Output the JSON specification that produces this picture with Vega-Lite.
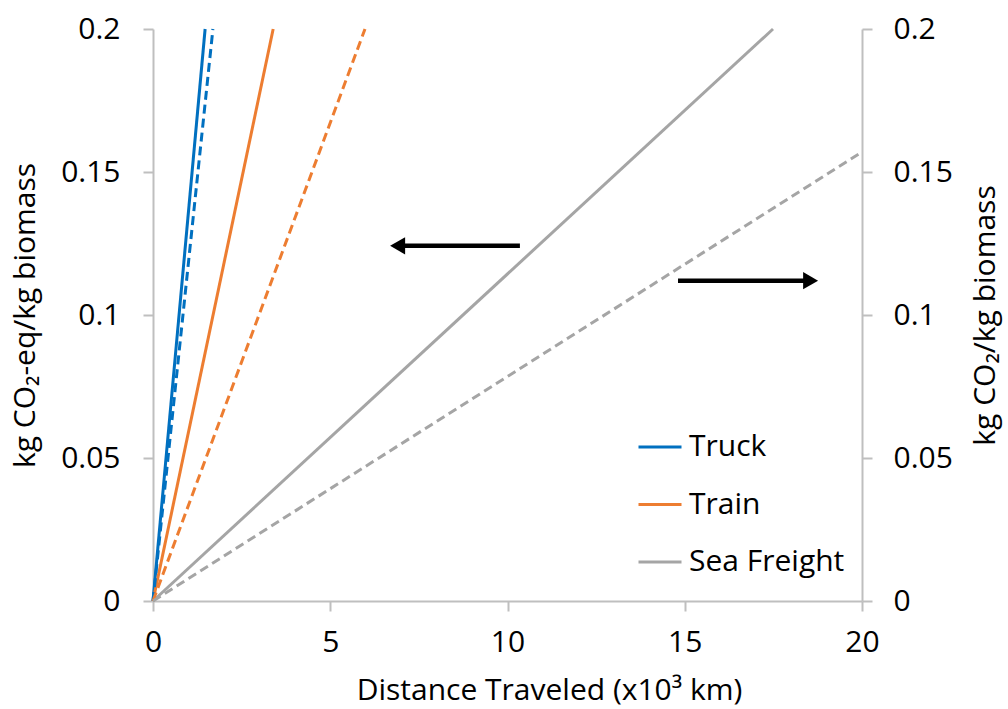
{
  "$schema": "https://vega.github.io/schema/vega-lite/v6.json",
  "width": 709,
  "height": 572,
  "autosize": {"type": "none"},
  "padding": {"left": 153, "top": 29, "right": 146, "bottom": 108},
  "background": "white",
  "config": {
    "font": "Open Sans",
    "view": {"stroke": null},
    "axis": {
      "grid": false,
      "domainColor": "#BFBFBF",
      "domainWidth": 2,
      "tickColor": "#BFBFBF",
      "tickWidth": 2,
      "tickSize": 10,
      "labelFlush": false,
      "labelFontSize": 30,
      "labelColor": "#000000",
      "labelFont": "Open Sans",
      "titleFont": "Open Sans",
      "titleFontSize": 30,
      "titleFontWeight": "normal",
      "titleColor": "#000000"
    }
  },
  "datasets": {
    "lines": [
      {"mode": "Truck", "kind": "solid", "x": 0, "y": 0},
      {"mode": "Truck", "kind": "solid", "x": 1.47, "y": 0.2},
      {"mode": "Truck", "kind": "dashed", "x": 0, "y": 0},
      {"mode": "Truck", "kind": "dashed", "x": 1.69, "y": 0.2},
      {"mode": "Train", "kind": "solid", "x": 0, "y": 0},
      {"mode": "Train", "kind": "solid", "x": 3.39, "y": 0.2},
      {"mode": "Train", "kind": "dashed", "x": 0, "y": 0},
      {"mode": "Train", "kind": "dashed", "x": 5.98, "y": 0.2},
      {"mode": "Sea Freight", "kind": "solid", "x": 0, "y": 0},
      {"mode": "Sea Freight", "kind": "solid", "x": 17.49, "y": 0.2},
      {"mode": "Sea Freight", "kind": "dashed", "x": 0, "y": 0},
      {"mode": "Sea Freight", "kind": "dashed", "x": 20, "y": 0.157}
    ],
    "arrows": [
      {"dir": "left", "x": 10.35, "x2": 6.9, "xh": 6.9, "y": 0.1242},
      {"dir": "right", "x": 14.81, "x2": 18.55, "xh": 18.55, "y": 0.112}
    ]
  },
  "layer": [
    {
      "data": {"name": "lines"},
      "transform": [{"filter": "datum.kind === 'solid'"}],
      "mark": {"type": "line", "strokeWidth": 3},
      "encoding": {
        "x": {
          "field": "x", "type": "quantitative",
          "scale": {"domain": [0, 20], "nice": false, "zero": true},
          "axis": {
            "values": [0, 5, 10, 15, 20],
            "labelPadding": 16,
            "title": "Distance Traveled (x10³ km)",
            "titleX": 396, "titleY": 98, "titleAlign": "center", "titleBaseline": "alphabetic"
          }
        },
        "y": {
          "field": "y", "type": "quantitative",
          "scale": {"domain": [0, 0.2], "nice": false},
          "axis": {
            "orient": "left",
            "values": [0, 0.05, 0.1, 0.15, 0.2],
            "format": "~g",
            "labelPadding": 23,
            "title": "kg CO₂-eq/kg biomass",
            "titleAngle": -90,
            "titleX": -128, "titleY": 286, "titleAlign": "center", "titleBaseline": "middle"
          }
        },
        "color": {
          "field": "mode", "type": "nominal",
          "scale": {"domain": ["Truck", "Train", "Sea Freight"], "range": ["#0070C0", "#ED7D31", "#A5A5A5"]},
          "legend": {
            "orient": "none", "legendX": 484, "legendY": 395,
            "title": null,
            "symbolType": "stroke", "symbolSize": 1849, "symbolStrokeWidth": 3,
            "labelFontSize": 30, "labelFont": "Open Sans", "labelColor": "#000000",
            "labelOffset": 6, "rowPadding": 19.5, "padding": 0
          }
        },
        "detail": {"field": "kind"}
      }
    },
    {
      "data": {"name": "lines"},
      "transform": [{"filter": "datum.kind === 'dashed'"}],
      "mark": {"type": "line", "strokeWidth": 3, "strokeDash": [9, 5]},
      "encoding": {
        "x": {"field": "x", "type": "quantitative"},
        "y": {
          "field": "y", "type": "quantitative",
          "scale": {"domain": [0, 0.2], "nice": false},
          "axis": {
            "orient": "right",
            "values": [0, 0.05, 0.1, 0.15, 0.2],
            "format": "~g",
            "labelPadding": 21,
            "title": "kg CO₂/kg biomass",
            "titleAngle": -90,
            "titleX": 123, "titleY": 286, "titleAlign": "center", "titleBaseline": "middle"
          }
        },
        "color": {"field": "mode", "type": "nominal"}
      }
    },
    {
      "data": {"name": "arrows"},
      "mark": {"type": "rule", "strokeWidth": 4.5, "color": "#000000"},
      "encoding": {
        "x": {"field": "x", "type": "quantitative"},
        "x2": {"field": "x2"},
        "y": {"field": "y", "type": "quantitative", "scale": {"domain": [0, 0.2], "nice": false}, "axis": null}
      }
    },
    {
      "data": {"name": "arrows"},
      "mark": {"type": "point", "filled": true, "opacity": 1, "color": "#000000", "size": 300},
      "encoding": {
        "x": {"field": "xh", "type": "quantitative"},
        "y": {"field": "y", "type": "quantitative", "scale": {"domain": [0, 0.2], "nice": false}, "axis": null},
        "shape": {
          "field": "dir", "type": "nominal",
          "scale": {"domain": ["left", "right"], "range": ["triangle-left", "triangle-right"]},
          "legend": null
        }
      }
    }
  ],
  "resolve": {"scale": {"y": "independent"}}
}
